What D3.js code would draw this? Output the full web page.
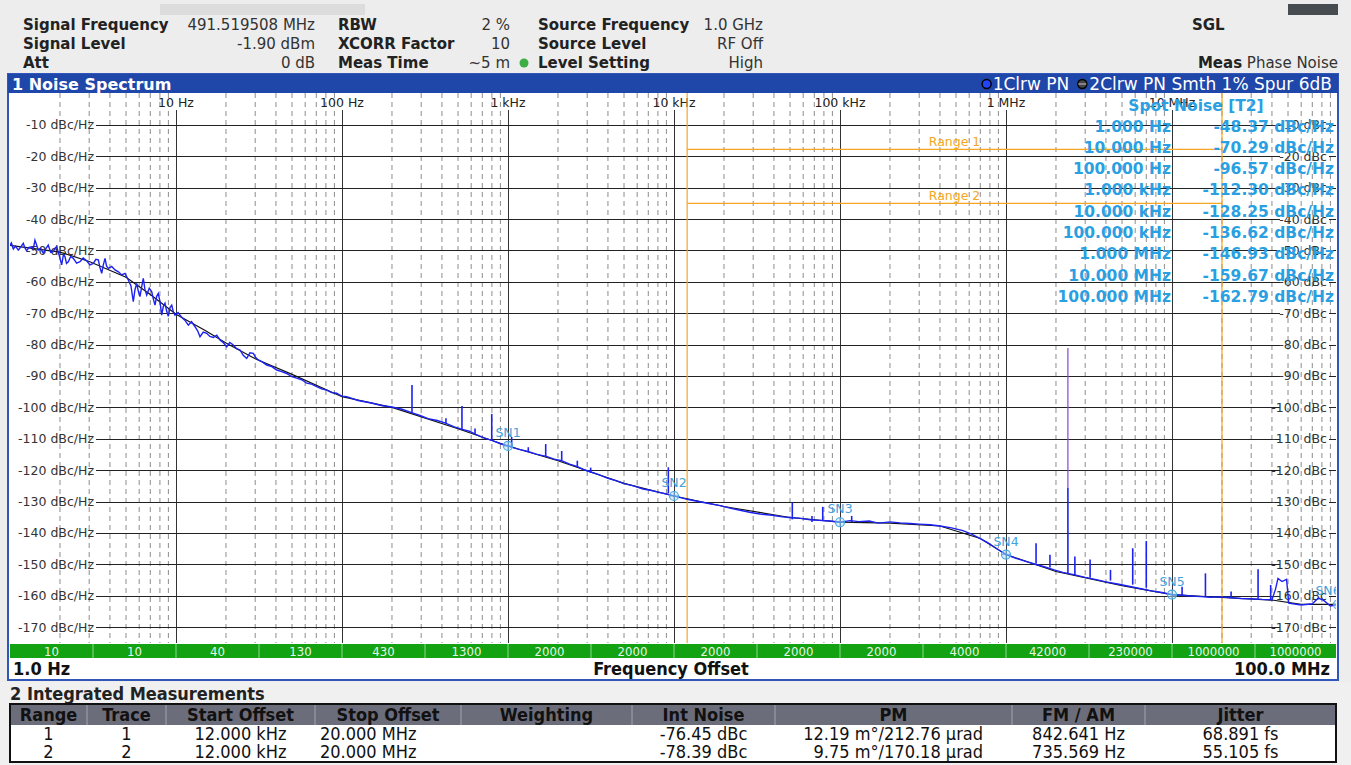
<!DOCTYPE html>
<html>
<head>
<meta charset="utf-8">
<script src="https://cdn.jsdelivr.net/npm/d3@7"></script>
<style>
html, body { margin: 0; padding: 0; background: #ededed; }
svg { display: block; font-family: "DejaVu Sans", Verdana, sans-serif; }
</style>
</head>
<body>
<svg id="chart" width="1351" height="765"></svg>
<script>
// header fields
const headLabels1 = ["Signal Frequency", "Signal Level", "Att"];
const headValues1 = ["491.519508 MHz", "-1.90 dBm", "0 dB"];
const headLabels2 = ["RBW", "XCORR Factor", "Meas Time"];
const headValues2 = ["2 %", "10", "~5 m"];
const headLabels3 = ["Source Frequency", "Source Level", "Level Setting"];
const headValues3 = ["1.0 GHz", "RF Off", "High"];

// axis ticks
const decadeLabels = ["10 Hz", "100 Hz", "1 kHz", "10 kHz", "100 kHz", "1 MHz", "10 MHz"];
const levelTicks = [-10, -20, -30, -40, -50, -60, -70, -80, -90, -100, -110, -120, -130, -140, -150, -160, -170];
const rbwLabels = ["10", "10", "40", "130", "430", "1300", "2000", "2000", "2000", "2000", "2000", "4000", "42000", "230000", "1000000", "1000000"];

// trace 1 (raw, blue) [Hz, dBc/Hz]
const trace1 = [
  [1.00, -48.3], [1.02, -47.6], [1.047, -49.5], [1.08, -48.6], [1.122, -49.9], [1.16, -48.9], [1.202, -47.7],
  [1.23, -49.2], [1.26, -50.1], [1.30, -49.0], [1.35, -48.8], [1.38, -49.6], [1.414, -46.7], [1.45, -48.4],
  [1.48, -49.9], [1.53, -49.3], [1.587, -50.9], [1.64, -49.5], [1.70, -48.3], [1.76, -50.6], [1.823, -50.4],
  [1.87, -49.2], [1.91, -48.8], [1.98, -51.6], [2.048, -54.6], [2.10, -51.2], [2.145, -52.0], [2.19, -54.1],
  [2.245, -53.6], [2.32, -51.9], [2.406, -52.5], [2.52, -54.0], [2.641, -53.6], [2.76, -52.4], [2.897, -53.3],
  [3.03, -54.6], [3.176, -54.1], [3.29, -52.8], [3.404, -53.0], [3.48, -55.4], [3.568, -57.3], [3.65, -54.6],
  [3.736, -52.5], [3.82, -55.0], [3.911, -55.7], [4.10, -55.1], [4.291, -56.2], [4.50, -56.8], [4.709, -57.8],
  [4.93, -57.3], [5.16, -59.4], [5.35, -61.2], [5.531, -66.3], [5.66, -62.5], [5.799, -60.5], [5.93, -63.0],
  [6.069, -64.7], [6.21, -61.6], [6.353, -58.9], [6.50, -62.4], [6.66, -64.2], [6.90, -62.0], [7.137, -63.1],
  [7.30, -65.4], [7.472, -67.4], [7.65, -64.6], [7.823, -63.7], [8.0, -66.2], [8.201, -70.6], [8.39, -67.8],
  [8.586, -66.8], [8.78, -69.3], [8.987, -71.0], [9.20, -68.2], [9.422, -67.4], [9.64, -69.6], [9.86, -70.6],
  [10.3, -69.8], [10.82, -71.3], [11.3, -72.2], [11.86, -73.8], [12.4, -72.7], [13.02, -74.3], [13.5, -75.6],
  [13.95, -77.5], [14.6, -76.0], [15.31, -76.4], [16.0, -77.4], [16.78, -77.7], [17.6, -77.0], [18.41, -78.5],
  [19.3, -79.4], [20.21, -80.7], [21.1, -79.3], [22.14, -80.1], [23.2, -81.3], [24.3, -81.7], [25.4, -83.4],
  [26.67, -84.4], [27.9, -82.6], [29.22, -82.8], [30.2, -84.1], [31.32, -84.9], [33.2, -85.6], [35.19, -86.5],
  [37.8, -87.0], [40.44, -88.1], [43.3, -88.6], [46.44, -89.2], [49.8, -90.2], [53.36, -90.7], [57.2, -91.2],
  [61.28, -92.3], [65.6, -92.6], [70.41, -93.4], [75.4, -94.1], [80.86, -94.5], [86.6, -95.3], [92.9, -95.5],
  [99.6, -96.4], [106.7, -96.6], [125, -97.8], [150, -98.6], [175, -99.5], [200, -99.9], [230, -100.6],
  [260, -101.6], [295, -102.6], [330, -103.6], [375, -104.2], [420, -105.0], [475, -106.2], [530, -107.0],
  [585, -107.6], [640, -108.6], [720, -109.8], [800, -110.5], [900, -111.6], [1000, -112.3], [1150, -113.3],
  [1300, -114.0], [1500, -115.0], [1700, -115.6], [1900, -116.5], [2100, -117.0], [2350, -118.1], [2600, -118.8],
  [2850, -119.8], [3150, -120.6], [3550, -121.5], [4000, -122.6], [4500, -123.4], [5000, -124.3], [5700, -125.0],
  [6500, -126.0], [7200, -126.4], [8000, -127.0], [9000, -127.6], [10000, -128.2], [12000, -129.3], [14000, -130.0],
  [16500, -130.7], [19000, -131.3], [22000, -132.2], [25000, -132.8], [29000, -133.5], [33000, -134.0],
  [39000, -134.4], [45000, -134.9], [51000, -135.2], [57000, -135.3], [66000, -135.8], [75000, -136.0],
  [87000, -136.2], [100000, -136.6], [115000, -136.1], [130000, -136.4], [150000, -136.2], [170000, -136.9],
  [200000, -136.5], [230000, -136.8], [265000, -137.0], [300000, -137.2], [350000, -137.4], [400000, -137.8],
  [470000, -138.4], [550000, -139.3], [620000, -140.4], [700000, -141.8], [780000, -143.2], [850000, -144.5],
  [920000, -145.7], [1000000, -146.9], [1150000, -148.1], [1300000, -149.0], [1500000, -150.0], [1700000, -150.8],
  [1950000, -151.8], [2200000, -152.6], [2600000, -153.4], [3000000, -154.2], [3500000, -154.9], [4000000, -155.6],
  [4700000, -156.3], [5500000, -157.0], [6500000, -157.8], [7500000, -158.5], [8700000, -159.0], [10000000, -159.7],
  [11500000, -159.9], [13000000, -160.1], [15000000, -160.3], [17000000, -160.5], [19500000, -160.4],
  [22000000, -160.6], [26000000, -160.9], [30000000, -161.0], [35000000, -161.2], [40000000, -161.3],
  [42000000, -158.0], [43500000, -154.5], [46000000, -155.5], [49000000, -154.8], [50500000, -162.4],
  [60000000, -163.0], [70000000, -162.6], [76000000, -160.8], [82000000, -161.5], [90000000, -163.3],
  [100000000, -162.8]
];

// trace 2 (smoothed, black)
const trace2Freq = [1, 2, 3, 5, 7, 10, 15, 20, 30, 50, 100, 200, 500, 1e3, 2e3, 5e3, 1e4, 2e4, 5e4, 1e5, 2e5, 4e5, 7e5, 1e6, 2e6, 5e6, 1e7, 2e7, 4e7, 6e7, 1e8];
const trace2Level = [-48.4, -50.5, -53.5, -58.5, -64, -70.3, -75.5, -79.5, -84.5, -89.5, -96.6, -100, -106.8, -112.3, -117, -124.2, -128.25, -131.6, -135.1, -136.6, -136.9, -137.8, -141.8, -146.9, -152.3, -156.8, -159.7, -160.6, -161.4, -162.8, -162.8];

// spurs on trace 1
const spurFreq = [264, 423, 528, 633, 798, 1052, 1325, 1687, 2106, 2616, 3148, 9245, 51600, 67800, 78700, 117600,
  1517000, 1840000, 2360000, 2600000, 3210000, 4260000, 5800000, 7000000, 11500000, 15900000, 22700000, 33000000, 39300000];
const spurBase = [-101.7, -105.1, -107.2, -108.5, -110.6, -112.4, -114.1, -115.7, -117.0, -118.9, -120.8, -127.4, -135.7, -136.5, -136.1, -136.6,
  -149.8, -151.0, -153.0, -153.5, -154.3, -155.2, -156.5, -157.5, -159.9, -160.2, -160.6, -161.0, -161.2];
const spurPeak = [-92.9, -103.5, -99.6, -106.7, -102.1, -109.4, -112.7, -111.7, -113.9, -117.0, -119.2, -119.1, -130.4, -134.6, -131.7, -134.6,
  -143.3, -147.0, -125.7, -147.5, -148.5, -151.8, -144.9, -142.6, -157.2, -152.9, -158.7, -151.6, -156.6];
const bigSpur = [2360000, -125.7, -81.1];

// spot noise
const spotFreq = [1, 10, 100, 1e3, 1e4, 1e5, 1e6, 1e7, 1e8];
const spotFreqLabel = ["1.000 Hz", "10.000 Hz", "100.000 Hz", "1.000 kHz", "10.000 kHz", "100.000 kHz", "1.000 MHz", "10.000 MHz", "100.000 MHz"];
const spotLevel = [-48.37, -70.29, -96.57, -112.30, -128.25, -136.62, -146.93, -159.67, -162.79];
const markerNames = ["SN1", "SN2", "SN3", "SN4", "SN5", "SN6"];

// integration ranges
const rangeStart = 12000, rangeStop = 20e6;
const rangeNames = ["Range 1", "Range 2"];
const rangeLevels = [-17.8, -35.0];

// table
const tableHeads = ["Range", "Trace", "Start Offset", "Stop Offset", "Weighting", "Int Noise", "PM", "FM / AM", "Jitter"];
const tableRow1 = ["1", "1", "12.000 kHz", "20.000 MHz", "", "-76.45 dBc", "12.19 m°/212.76 µrad", "842.641 Hz", "68.891 fs"];
const tableRow2 = ["2", "2", "12.000 kHz", "20.000 MHz", "", "-78.39 dBc", "9.75 m°/170.18 µrad", "735.569 Hz", "55.105 fs"];

const svg = d3.select("#chart");
const plot = { left: 10, right: 1336, top: 93, bottom: 643 };
const x = d3.scaleLog().domain([1, 1e8]).range([10, 1338]);
const y = d3.scaleLinear().domain([0, -175]).range([93.6, 642.7]);

const blue = "#1c22f2", light = "#2a9fe2", orange = "#f5a623";

// ---------- header ----------
svg.append("rect").attr("width", 1351).attr("height", 765).attr("fill", "#ededed");
svg.append("rect").attr("x", 160).attr("y", 4).attr("width", 205).attr("height", 11).attr("fill", "#dcdcdc");
svg.append("rect").attr("x", 1288).attr("y", 4).attr("width", 50).attr("height", 11).attr("fill", "#474c50");

const rowsY = [30, 49, 68];
function headerCol(labels, values, lx, vx) {
  labels.forEach((t, i) => {
    svg.append("text").attr("x", lx).attr("y", rowsY[i]).attr("font-size", 15).attr("font-weight", "bold")
      .attr("fill", "#222").text(t);
    svg.append("text").attr("x", vx).attr("y", rowsY[i]).attr("font-size", 15).attr("text-anchor", "end")
      .attr("fill", "#333").text(values[i]);
  });
}
headerCol(headLabels1, headValues1, 23, 315);
headerCol(headLabels2, headValues2, 338, 510);
headerCol(headLabels3, headValues3, 538, 763);
svg.append("circle").attr("cx", 524).attr("cy", 63).attr("r", 4.5).attr("fill", "#3cae44");
svg.append("text").attr("x", 1192).attr("y", 30).attr("font-size", 15).attr("font-weight", "bold").attr("fill", "#222").text("SGL");
svg.append("text").attr("x", 1338).attr("y", 68).attr("font-size", 15).attr("fill", "#333").attr("text-anchor", "end")
  .html('<tspan font-weight="bold" fill="#222">Meas</tspan> Phase Noise');

// ---------- panel ----------
svg.append("rect").attr("x", 8).attr("y", 74).attr("width", 1330).attr("height", 606).attr("fill", "#fff")
  .attr("stroke", "#2f56b8").attr("stroke-width", 2);
svg.append("rect").attr("x", 8).attr("y", 74).attr("width", 1330).attr("height", 19).attr("fill", "#1f46a9");
svg.append("text").attr("x", 12).attr("y", 89.5).attr("font-size", 16).attr("font-weight", "bold").attr("fill", "#fff").text("1 Noise Spectrum");

// trace legend in the title bar, pinned to the right edge
const leg2 = svg.append("text").attr("x", 1332).attr("y", 89.5).attr("font-size", 17).attr("fill", "#fff")
  .attr("text-anchor", "end").text("2Clrw PN Smth 1% Spur 6dB");
const leg2Left = 1332 - leg2.node().getComputedTextLength();
svg.append("circle").attr("cx", leg2Left - 7).attr("cy", 84).attr("r", 4.5).attr("fill", "#444").attr("stroke", "#000").attr("stroke-width", 1.5);
svg.append("line").attr("x1", leg2Left - 11).attr("x2", leg2Left - 3).attr("y1", 84).attr("y2", 84).attr("stroke", "#999").attr("stroke-width", 1.5);
const leg1 = svg.append("text").attr("x", leg2Left - 20).attr("y", 89.5).attr("font-size", 17).attr("fill", "#fff")
  .attr("text-anchor", "end").text("1Clrw PN");
const leg1Left = leg2Left - 20 - leg1.node().getComputedTextLength();
svg.append("circle").attr("cx", leg1Left - 6).attr("cy", 84).attr("r", 4.5).attr("fill", "#2244ff").attr("stroke", "#000").attr("stroke-width", 1.5);

svg.append("defs").append("clipPath").attr("id", "clip").append("rect")
  .attr("x", plot.left).attr("y", plot.top).attr("width", plot.right - plot.left).attr("height", plot.bottom - plot.top);

const grid = svg.append("g");
// minor dashed verticals
const minors = [];
for (let d = 0; d < 8; d++) for (let m = 2; m <= 9; m++) minors.push(m * Math.pow(10, d));
grid.selectAll(".minor").data(minors).join("line").attr("class", "minor")
  .attr("x1", d => x(d)).attr("x2", d => x(d)).attr("y1", plot.top).attr("y2", plot.bottom)
  .attr("stroke", "#8c8c8c").attr("stroke-dasharray", "5,4").attr("stroke-width", 1);
// decade lines
const decades = d3.range(1, 8).map(d => Math.pow(10, d));
grid.selectAll(".dec").data(decades).join("line").attr("class", "dec")
  .attr("x1", d => Math.round(x(d)) + 0.5).attr("x2", d => Math.round(x(d)) + 0.5).attr("y1", 110).attr("y2", plot.bottom)
  .attr("stroke", "#333").attr("stroke-width", 1);
grid.selectAll(".declab").data(decades).join("text").attr("class", "declab")
  .attr("x", d => x(d)).attr("y", 107).attr("text-anchor", "middle").attr("font-size", 12.5).attr("fill", "#222")
  .text((d, i) => decadeLabels[i]);
// level lines
grid.selectAll(".hl").data(levelTicks).join("path").attr("class", "hl")
  .attr("d", d => { const yy = Math.round(y(d)) + 0.5; return `M96,${yy}H1280M1329,${yy}H${plot.right}`; })
  .attr("stroke", "#222").attr("stroke-width", 1).attr("fill", "none");
grid.selectAll(".ll").data(levelTicks).join("text").attr("class", "ll")
  .attr("x", 94).attr("y", d => y(d) + 4.5).attr("text-anchor", "end").attr("font-size", 12.5).attr("fill", "#333")
  .text(d => `${d} dBc/Hz`);
grid.selectAll(".rl").data(levelTicks).join("text").attr("class", "rl")
  .attr("x", 1327).attr("y", d => y(d) + 4.5).attr("text-anchor", "end").attr("font-size", 12.5).attr("fill", "#333")
  .text(d => `${d} dBc`);

// integration range lines
grid.selectAll(".rv").data([rangeStart, rangeStop]).join("line").attr("class", "rv")
  .attr("x1", d => x(d)).attr("x2", d => x(d)).attr("y1", plot.top).attr("y2", plot.bottom)
  .attr("stroke", orange).attr("stroke-width", 1.2);
grid.selectAll(".rh").data(rangeLevels).join("line").attr("class", "rh")
  .attr("x1", x(rangeStart)).attr("x2", x(rangeStop)).attr("y1", d => y(d)).attr("y2", d => y(d))
  .attr("stroke", orange).attr("stroke-width", 1.2);
grid.selectAll(".rt").data(rangeLevels).join("text").attr("class", "rt")
  .attr("x", (x(rangeStart) + x(rangeStop)) / 2).attr("y", d => y(d) - 3).attr("text-anchor", "middle")
  .attr("font-size", 12.5).attr("fill", orange).text((d, i) => rangeNames[i]);

// ---------- traces ----------
const traces = svg.append("g").attr("clip-path", "url(#clip)");
const line = d3.line().x(d => x(d[0])).y(d => y(d[1]));
traces.append("path").datum(trace2Freq.map((f, i) => [f, trace2Level[i]]))
  .attr("d", line).attr("fill", "none").attr("stroke", "#111").attr("stroke-width", 1.2);
traces.append("path").datum(trace1).attr("d", line).attr("fill", "none").attr("stroke", blue).attr("stroke-width", 1.4);
traces.append("line").attr("x1", x(bigSpur[0])).attr("x2", x(bigSpur[0])).attr("y1", y(bigSpur[1])).attr("y2", y(bigSpur[2]))
  .attr("stroke", "#7e48d6").attr("stroke-width", 1.2);
traces.selectAll(".spur").data(spurFreq).join("line").attr("class", "spur")
  .attr("x1", d => x(d)).attr("x2", d => x(d)).attr("y1", (d, i) => y(spurBase[i])).attr("y2", (d, i) => y(spurPeak[i]))
  .attr("stroke", blue).attr("stroke-width", 1.6);

// spot noise markers
const marks = traces.selectAll(".sn").data(spotFreq.slice(3)).join("g").attr("class", "sn")
  .attr("transform", (d, i) => `translate(${x(d)},${y(spotLevel[i + 3])})`);
marks.append("circle").attr("r", 4.5).attr("fill", "rgba(190,220,245,0.5)").attr("stroke", "#4aa9e2").attr("stroke-width", 1.2);
marks.append("path").attr("d", "M-4.5,0H4.5M0,-4.5V4.5").attr("stroke", "#4aa9e2").attr("stroke-width", 0.8);
marks.append("text").attr("x", (d, i) => i === 5 ? -10 : 0).attr("y", -9).attr("text-anchor", "middle")
  .attr("font-size", 12.5).attr("fill", "#3fa2dc").text((d, i) => markerNames[i]);

// spot noise table
svg.append("text").attr("x", 1196).attr("y", 111).attr("text-anchor", "middle").attr("font-size", 15.5)
  .attr("font-weight", "bold").attr("fill", light).text("Spot Noise [T2]");
svg.selectAll(".spf").data(spotFreqLabel).join("text").attr("class", "spf")
  .attr("x", 1171).attr("y", (d, i) => 131.5 + i * 21.3).attr("text-anchor", "end").attr("font-size", 15.5)
  .attr("font-weight", "bold").attr("fill", light).text(d => d);
svg.selectAll(".spv").data(spotLevel).join("text").attr("class", "spv")
  .attr("x", 1334).attr("y", (d, i) => 131.5 + i * 21.3).attr("text-anchor", "end").attr("font-size", 15.5)
  .attr("font-weight", "bold").attr("fill", light).text(d => `${d.toFixed(2)} dBc/Hz`);

// ---------- RBW band ----------
const band = svg.append("g").attr("font-family", "'DejaVu Sans Condensed', 'DejaVu Sans', sans-serif");
band.append("rect").attr("x", plot.left).attr("y", 644).attr("width", plot.right - plot.left).attr("height", 14).attr("fill", "#12a212");
const halfDec = d3.range(0, 17).map(i => Math.pow(10, i / 2));
band.selectAll(".sep").data(halfDec.slice(1, 16)).join("line").attr("class", "sep")
  .attr("x1", d => x(d)).attr("x2", d => x(d)).attr("y1", 644).attr("y2", 658).attr("stroke", "#8fd88f").attr("stroke-width", 1);
band.selectAll(".rbw").data(rbwLabels).join("text").attr("class", "rbw")
  .attr("x", (d, i) => (x(halfDec[i]) + Math.min(x(halfDec[i + 1]), plot.right)) / 2).attr("y", 656)
  .attr("text-anchor", "middle").attr("font-size", 13).attr("fill", "#e6f6e6").text(d => d);

band.append("text").attr("x", 13).attr("y", 675).attr("font-size", 18).attr("font-weight", "bold").attr("fill", "#111").text("1.0 Hz");
band.append("text").attr("x", 671).attr("y", 675).attr("text-anchor", "middle").attr("font-size", 18).attr("font-weight", "bold").attr("fill", "#111").text("Frequency Offset");
band.append("text").attr("x", 1330).attr("y", 675).attr("text-anchor", "end").attr("font-size", 18).attr("font-weight", "bold").attr("fill", "#111").text("100.0 MHz");

// ---------- integrated measurements ----------
const tbl = svg.append("g").attr("font-family", "'DejaVu Sans Condensed', 'DejaVu Sans', sans-serif");
tbl.append("rect").attr("x", 0).attr("y", 682).attr("width", 1351).attr("height", 83).attr("fill", "#f0f0f0");
tbl.append("text").attr("x", 10).attr("y", 700).attr("font-size", 18).attr("font-weight", "bold").attr("fill", "#222").text("2 Integrated Measurements");
const colX = [10, 87, 166, 315, 461, 632, 775, 1012, 1145, 1336];
tbl.append("rect").attr("x", 10).attr("y", 704).attr("width", 1326).attr("height", 58).attr("fill", "#fff");
tbl.append("rect").attr("x", 10).attr("y", 704).attr("width", 1326).attr("height", 21).attr("fill", "#6c6d7b");
tbl.selectAll(".csep").data(colX.slice(1, 9)).join("line").attr("class", "csep")
  .attr("x1", d => d).attr("x2", d => d).attr("y1", 704).attr("y2", 725).attr("stroke", "#a4a5b0").attr("stroke-width", 1);
tbl.append("rect").attr("x", 10).attr("y", 704).attr("width", 1326).attr("height", 58).attr("fill", "none").attr("stroke", "#111").attr("stroke-width", 2);
tbl.selectAll(".th").data(tableHeads).join("text").attr("class", "th")
  .attr("x", (d, i) => (colX[i] + colX[i + 1]) / 2).attr("y", 721).attr("text-anchor", "middle")
  .attr("font-size", 18).attr("font-weight", "bold").attr("fill", "#111").text(d => d);
const anchors = ["middle", "middle", "middle", "start", "middle", "middle", "end", "middle", "middle"];
function cellX(i) {
  if (anchors[i] === "start") return colX[i] + 5;
  if (anchors[i] === "end") return colX[i + 1] - 29;
  return (colX[i] + colX[i + 1]) / 2;
}
[tableRow1, tableRow2].forEach((row, r) => {
  tbl.selectAll(".td" + r).data(row).join("text").attr("class", "td" + r)
    .attr("x", (d, i) => cellX(i)).attr("y", 740 + r * 18).attr("text-anchor", (d, i) => anchors[i])
    .attr("font-size", 18).attr("fill", "#111").text(d => d);
});
</script>
</body>
</html>
